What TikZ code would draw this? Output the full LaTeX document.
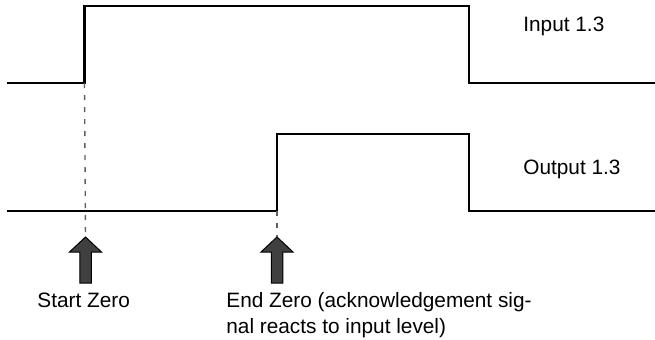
\documentclass[tikz,border=0pt]{standalone}
\usepackage{fontspec}
\setmainfont{Liberation Sans}
\usetikzlibrary{positioning}
\definecolor{arrow_fill}{HTML}{404040}
\definecolor{guide_gray}{HTML}{606060}

\begin{document}
\begin{tikzpicture}[
    % --- Global Settings ---
    % One unit is one pixel of the reference, y grows downwards
    x=0.5pt, y=-0.5pt,
    % Font for all text in the picture
    every node/.style={font=\fontsize{10.4}{13}\selectfont, inner sep=0pt}
  ]

  % --- Style Definitions ---
  \tikzset{
    % Style for the two signal traces
    signal/.style={
      draw=black,
      line width=1.3pt,
      line join=miter
    },
    % Style for the dashed guide lines down to the markers
    guide/.style={
      draw=guide_gray,
      line width=0.7pt,
      dash pattern=on 2.5pt off 3.5pt
    },
    % Style for the text labels
    siglabel/.style={
      anchor=base west,
      align=left
    },
    % Block arrow pointing up, its tip at the origin
    uparrow/.pic={
      \draw[fill=arrow_fill, draw=black, line width=0.5pt]
        (0,0) -- (16,15) -- (5.75,15) -- (5.75,46) -- (-5.75,46)
        -- (-5.75,15) -- (-16,15) -- cycle;
      \coordinate (-tip) at (0,0);
    }
  }

  % Fix the margins of the picture
  \useasboundingbox (0,0) rectangle (655,339);

  % --- Signal Corners ---
  \coordinate (inrise) at (84.5,83);
  \coordinate (infall) at (469,6);
  \coordinate (outrise) at (277,211);
  \coordinate (outfall) at (469,134);

  % --- Signal Traces ---
  % Input 1.3
  \draw[signal] (7,83) -- (inrise) |- (infall) |- (655,83);
  % Output 1.3
  \draw[signal] (7,211) -- (outrise) |- (outfall) |- (655,211);

  % --- Markers ---
  \pic (startarrow) at (85.5,237) {uparrow};
  \pic (endarrow) at (277,237) {uparrow};

  % Dashed guides from the edges to the markers
  \draw[guide] (inrise) -- (startarrow-tip);
  \draw[guide] (outrise) -- (endarrow-tip);

  % --- Labels ---
  \node[siglabel] (inlabel) at (523,31) {Input 1.3};
  \node[siglabel] (outlabel) at (523,174) {Output 1.3};
  \node[siglabel] (startlabel) at (37,307) {Start Zero};
  % the base of a two-line node is its last line
  \node[siglabel] (endlabel) at (226,333)
    {End Zero (acknowledgement sig-\\nal reacts to input level)};

\end{tikzpicture}
\end{document}
